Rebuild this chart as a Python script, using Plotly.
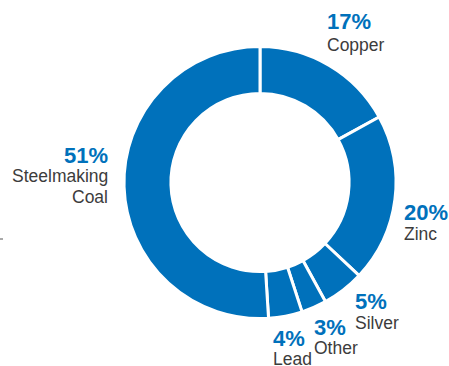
import plotly.graph_objects as go

# Revenue mix by commodity
commodities = ["Copper", "Zinc", "Silver", "Other", "Lead", "Steelmaking<br>Coal"]
shares = [17, 20, 5, 3, 4, 51]

BLUE = "#0071BB"
GREY = "#3c3c3c"
W, H = 449, 366
LINE_GAP = 21  # pixel spacing between lines of a wrapped name

# label anchor points in pixels: (x, y of percent, y of first name line, anchor side)
label_layout = [
    (325, 22, 45, "left"),
    (402, 212, 234, "left"),
    (353, 301, 323, "left"),
    (312, 327, 348, "left"),
    (271, 338, 359, "left"),
    (110, 155, 176, "right"),
]


def px(x, y):
    return x / W, 1 - y / H


fig = go.Figure(
    go.Pie(
        labels=commodities,
        values=shares,
        sort=False,
        direction="clockwise",
        rotation=0,
        hole=0.655,
        marker=dict(colors=[BLUE] * len(shares), line=dict(color="white", width=3)),
        textinfo="none",
        hoverinfo="skip",
        showlegend=False,
        domain=dict(x=[124 / W, 396 / W], y=[1 - 318.5 / H, 1 - 46.5 / H]),
    )
)

annotations = []
for name, share, (lx, ypct, yname, side) in zip(commodities, shares, label_layout):
    xp, yp = px(lx, ypct)
    annotations.append(
        dict(
            x=xp, y=yp, xref="paper", yref="paper",
            text=f"<b>{share}%</b>", showarrow=False,
            xanchor=side, yanchor="middle", align=side,
            font=dict(family="Liberation Sans, Arial", size=22, color=BLUE),
        )
    )
    for i, line in enumerate(name.split("<br>")):
        _, yn = px(lx, yname + i * LINE_GAP)
        annotations.append(
            dict(
                x=xp, y=yn, xref="paper", yref="paper",
                text=line, showarrow=False,
                xanchor=side, yanchor="middle", align=side,
                font=dict(family="Liberation Sans, Arial", size=17.5, color=GREY),
            )
        )

fig.update_layout(
    width=W,
    height=H,
    margin=dict(l=0, r=0, t=0, b=0),
    paper_bgcolor="white",
    plot_bgcolor="white",
    annotations=annotations,
    shapes=[
        dict(type="line", xref="paper", yref="paper",
             x0=0, x1=3 / W, y0=1 - 239 / H, y1=1 - 239 / H,
             line=dict(color="#555555", width=1)),
    ],
)

fig.write_html("out.html")
